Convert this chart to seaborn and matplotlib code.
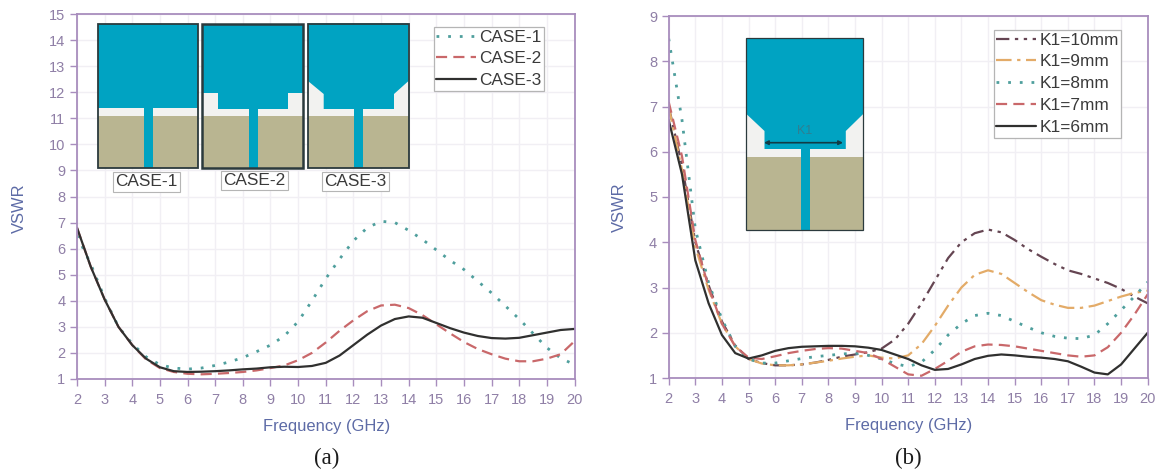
import matplotlib
matplotlib.use("Agg")
import matplotlib.pyplot as plt
from matplotlib.patches import Polygon, Rectangle
import numpy as np
import seaborn as sns

sns.set_theme(style="white")
plt.rcParams['font.family'] = ['Liberation Sans', 'DejaVu Sans']

freq = [2 + 0.5 * i for i in range(37)]

case_1 = [6.5, 5.4, 4.1, 3.0, 2.35, 1.85, 1.55, 1.42, 1.38, 1.42, 1.52, 1.65, 1.82, 2.05, 2.3, 2.65, 3.2, 4.0, 4.85,
          5.6, 6.3, 6.8, 7.05, 7.0, 6.7, 6.35, 5.95, 5.55, 5.2, 4.75, 4.3, 3.8, 3.3, 2.75, 2.2, 1.8, 1.55]
case_2 = [6.8, 5.3, 4.05, 3.0, 2.3, 1.75, 1.42, 1.27, 1.2, 1.18, 1.2, 1.23, 1.27, 1.33, 1.42, 1.52, 1.72, 2.0, 2.4,
          2.85, 3.25, 3.6, 3.82, 3.85, 3.72, 3.45, 3.1, 2.75, 2.42, 2.15, 1.95, 1.78, 1.68, 1.68, 1.78, 1.95, 2.45]
case_3 = [6.8, 5.3, 4.05, 3.0, 2.3, 1.78, 1.45, 1.3, 1.27, 1.28, 1.3, 1.33, 1.37, 1.4, 1.45, 1.47, 1.46, 1.5, 1.62,
          1.9, 2.3, 2.7, 3.05, 3.3, 3.4, 3.35, 3.15, 2.95, 2.78, 2.65, 2.57, 2.55, 2.58, 2.68, 2.78, 2.88, 2.92]

k1_10 = [7.0, 5.7, 4.0, 3.05, 2.25, 1.72, 1.42, 1.33, 1.28, 1.28, 1.3, 1.34, 1.4, 1.47, 1.52, 1.57, 1.65, 1.85, 2.2,
         2.65, 3.15, 3.65, 4.0, 4.2, 4.28, 4.22, 4.05, 3.85, 3.68, 3.52, 3.38, 3.3, 3.2, 3.1, 2.97, 2.8, 2.65]
k1_9 = [7.0, 5.6, 3.9, 2.95, 2.2, 1.7, 1.42, 1.32, 1.28, 1.28, 1.3, 1.34, 1.38, 1.43, 1.47, 1.5, 1.45, 1.43, 1.5,
        1.75, 2.15, 2.6, 3.0, 3.28, 3.38, 3.3, 3.1, 2.9, 2.72, 2.62, 2.55, 2.55, 2.6, 2.7, 2.8, 2.88, 2.93]
k1_8 = [8.5, 6.7, 4.3, 3.1, 2.3, 1.7, 1.42, 1.33, 1.33, 1.38, 1.43, 1.47, 1.5, 1.53, 1.55, 1.5, 1.42, 1.32, 1.25,
        1.35, 1.62, 1.95, 2.2, 2.38, 2.43, 2.38, 2.25, 2.12, 2.0, 1.92, 1.88, 1.87, 1.95, 2.2, 2.5, 2.8, 3.12]
k1_7 = [7.1, 5.9, 4.05, 3.0, 2.2, 1.7, 1.45, 1.42, 1.48, 1.55, 1.6, 1.64, 1.66, 1.65, 1.6, 1.55, 1.42, 1.25, 1.08,
        1.05, 1.2, 1.38, 1.58, 1.7, 1.74, 1.73, 1.7, 1.65, 1.6, 1.55, 1.5, 1.47, 1.5, 1.68, 2.0, 2.4, 2.85]
k1_6 = [6.7, 5.5, 3.6, 2.65, 1.95, 1.55, 1.43, 1.5, 1.6, 1.66, 1.69, 1.7, 1.71, 1.71, 1.7, 1.67, 1.62, 1.52, 1.42,
        1.28, 1.18, 1.2, 1.3, 1.42, 1.49, 1.52, 1.5, 1.47, 1.45, 1.42, 1.37, 1.25, 1.12, 1.08, 1.3, 1.65, 2.0]

x_ticks = list(range(2, 21))
y_ticks_a = list(range(1, 16))
y_ticks_b = list(range(1, 10))
x_title = "Frequency (GHz)"
y_title = "VSWR"
labels_a = ["CASE-1", "CASE-2", "CASE-3"]
labels_b = ["K1=10mm", "K1=9mm", "K1=8mm", "K1=7mm", "K1=6mm"]
captions = ["(a)", "(b)"]

W, H = 1159, 474
TEAL, ORANGE, RED, DARK, PLUM = "#4f9f9d", "#e3ab68", "#c9686a", "#30302f", "#654552"
SPINE, TICKTXT, AXTXT = "#a88dbd", "#8f7fa6", "#5d6ba6"
PATCH, TAN, GAP = "#00a3c2", "#b9b591", "#f2f2f0"

fig = plt.figure(figsize=(W / 100, H / 100), dpi=100, facecolor="white")


def px_axes(l, t, r, b):
    return fig.add_axes([l / W, 1 - b / H, (r - l) / W, (b - t) / H])


def style(ax, yticks):
    ax.set_xlim(2, 20)
    ax.set_ylim(yticks[0], yticks[-1])
    ax.set_xticks(x_ticks)
    ax.set_yticks(yticks)
    ax.grid(True, color="#f1eff4", lw=1.0)
    ax.set_axisbelow(True)
    for s in ax.spines.values():
        s.set_color(SPINE)
        s.set_linewidth(1.3)
        s.set_visible(True)
    ax.tick_params(axis="both", direction="out", length=4.8, width=1, color=SPINE, bottom=True, left=True,
                   labelsize=10.5, labelcolor=TICKTXT)
    ax.tick_params(axis="x", pad=5)
    ax.tick_params(axis="y", pad=3.5)
    ax.set_xlabel(x_title, fontsize=11.9, color=AXTXT)
    ax.set_ylabel(y_title, fontsize=11.9, color=AXTXT)


dotted = (0, (1, 3.2))
dashed = (0, (5, 2.8))
dashdot = (0, (7, 2.5, 1.5, 2.5))
dashdotdot = (0, (6, 2.5, 1.5, 2.5, 1.5, 2.5))

ax_a = px_axes(77, 14, 574.5, 379)
sns.lineplot(x=freq, y=case_1, ax=ax_a, color=TEAL, lw=2, linestyle=dotted, label=labels_a[0], errorbar=None)
sns.lineplot(x=freq, y=case_2, ax=ax_a, color=RED, lw=1.6, linestyle=dashed, label=labels_a[1], errorbar=None)
sns.lineplot(x=freq, y=case_3, ax=ax_a, color=DARK, lw=1.6, label=labels_a[2], errorbar=None)
style(ax_a, y_ticks_a)
ax_a.yaxis.set_label_coords((27 - 77) / 497.5, 0.468)
ax_a.xaxis.set_label_coords(0.501, -0.11)

ax_b = px_axes(668.7, 16, 1147.7, 378)
sns.lineplot(x=freq, y=k1_10, ax=ax_b, color=PLUM, lw=1.6, linestyle=dashdotdot, label=labels_b[0], errorbar=None)
sns.lineplot(x=freq, y=k1_9, ax=ax_b, color=ORANGE, lw=1.6, linestyle=dashdot, label=labels_b[1], errorbar=None)
sns.lineplot(x=freq, y=k1_8, ax=ax_b, color=TEAL, lw=2, linestyle=dotted, label=labels_b[2], errorbar=None)
sns.lineplot(x=freq, y=k1_7, ax=ax_b, color=RED, lw=1.6, linestyle=dashed, label=labels_b[3], errorbar=None)
sns.lineplot(x=freq, y=k1_6, ax=ax_b, color=DARK, lw=1.6, label=labels_b[4], errorbar=None)
style(ax_b, y_ticks_b)
ax_b.yaxis.set_label_coords((627 - 668.7) / 479, 0.472)
ax_b.xaxis.set_label_coords(0.501, -0.11)

for ax, (lx, ty) in ((ax_a, (433.6, 27)), (ax_b, (993.8, 30))):
    leg = ax.legend(loc="upper left", bbox_to_anchor=(lx / W, 1 - ty / H), bbox_transform=fig.transFigure,
                    borderaxespad=0, fontsize=12.4, labelspacing=0.395, handlelength=2.3, handletextpad=0.2,
                    borderpad=0.15, frameon=True, fancybox=False, edgecolor="#b5b5b5", framealpha=1)
    leg.get_frame().set_linewidth(0.9)
    for t in leg.get_texts():
        t.set_color("#3a3a3a")

# Antenna sketches, drawn in picture pixels on a transparent overlay
ov = fig.add_axes([0, 0, 1, 1], facecolor="none")
ov.set_xlim(0, W)
ov.set_ylim(H, 0)
ov.axis("off")


def antenna(x0, x1, y0, y1, outline, feed, gap_top, tan_top, lw):
    ov.add_patch(Rectangle((x0, y0), x1 - x0, y1 - y0, fc=GAP, ec="none", zorder=5))
    ov.add_patch(Rectangle((x0, tan_top), x1 - x0, y1 - tan_top, fc=TAN, ec="none", zorder=6))
    ov.add_patch(Polygon(outline, closed=True, fc=PATCH, ec="none", zorder=7))
    ov.add_patch(Rectangle((feed[0], gap_top - 1), feed[1] - feed[0], y1 - gap_top + 1, fc=PATCH, ec="none", zorder=7))
    ov.add_patch(Rectangle((x0, y0), x1 - x0, y1 - y0, fc="none", ec="#2b3a3d", lw=lw, zorder=8))


y0, y1 = 23.5, 167.5
antenna(98.4, 197.5, y0, y1, [(98.4, y0), (197.5, y0), (197.5, 108), (98.4, 108)], (144, 152.5), 108, 115.7, 1.3)
antenna(202.4, 303, y0, y1, [(202.4, y0), (303, y0), (303, 93), (288, 93), (288, 109), (218, 109), (218, 93),
                             (202.4, 93)], (249, 257.5), 109, 115.7, 1.8)
antenna(308, 408.5, y0, y1, [(308, y0), (408.5, y0), (408.5, 81), (394, 94), (394, 109), (323.7, 109), (323.7, 94),
                             (308, 81)], (353.7, 363.3), 109, 115.7, 1.3)
antenna(746.4, 863.2, 38, 230, [(746.4, 38), (863.2, 38), (863.2, 114), (845.8, 131), (845.8, 149), (764.5, 149),
                                (764.5, 131), (746.4, 114)], (800.5, 810), 149, 157, 0.9)
ov.annotate("", xy=(764, 142.7), xytext=(843, 142.7), zorder=9,
            arrowprops=dict(arrowstyle="<|-|>", color="#123c46", lw=1.2, mutation_scale=6, shrinkA=0, shrinkB=0))
ov.text(805, 131, "K1", fontsize=9, color="#2f7f92", ha="center", va="center", zorder=9)

for cx, cy, txt in ((146.5, 182, labels_a[0]), (254.5, 180.5, labels_a[1]), (355.5, 181.5, labels_a[2])):
    ov.text(cx, cy, txt, fontsize=12.4, color="#3a3a3a", ha="center", va="center", zorder=9,
            bbox=dict(boxstyle="square,pad=0.12", fc="white", ec="#b5b5b5", lw=0.8))

ov.text(327, 458, captions[0], fontsize=16.5, family="Liberation Serif", color="#1c1c1c", ha="center", va="center")
ov.text(908, 458, captions[1], fontsize=16.5, family="Liberation Serif", color="#1c1c1c", ha="center", va="center")

fig.savefig("out.png", dpi=100)
